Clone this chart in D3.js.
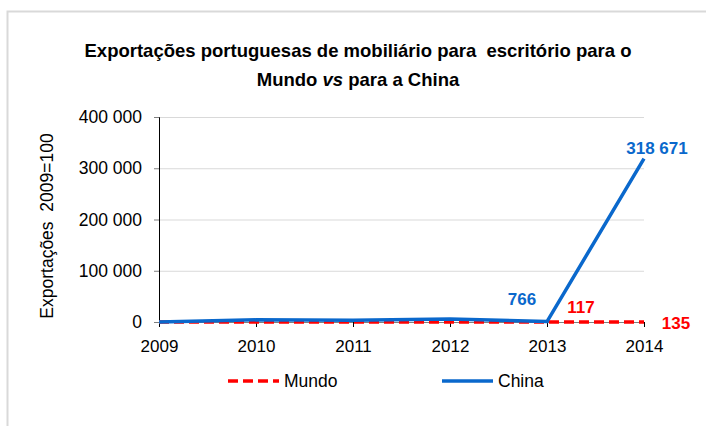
<!DOCTYPE html>
<html>
<head>
<meta charset="utf-8">
<script src="https://cdn.jsdelivr.net/npm/d3@7"></script>
<style>
  body { margin: 0; background: #fff; overflow: hidden; }
  text { font-family: "Liberation Sans", Arial, sans-serif; white-space: pre; }
</style>
</head>
<body>
<script>
//Data
    const years = ["2009", "2010", "2011", "2012", "2013", "2014"];
    const mundo = [100, 112, 98, 106, 117, 135];
    const china = [100, 4200, 3500, 5800, 766, 318671];
    const yTicks = [0, 100000, 200000, 300000, 400000];

//Layout
    const width = 706;
    const height = 426;
    const plotLeft = 159, plotRight = 644, plotTop = 117, plotBottom = 322;
    const blue = "#0a68cc", red = "#ff0000";

    const svg = d3.select("body").append("svg")
        .attr("width", width)
        .attr("height", height);

    //outer frame
    svg.append("rect")
        .attr("x", 7.5).attr("y", 11.5)
        .attr("width", 710).attr("height", 430)
        .attr("fill", "none").attr("stroke", "#d9d9d9").attr("stroke-width", 2);

//Scales
    const xScale = d3.scalePoint().domain(years).range([plotLeft, plotRight]);
    const yScale = d3.scaleLinear().domain([0, 400000]).range([plotBottom, plotTop]);

    const fmt = v => d3.format(",")(v).replace(/,/g, " ");

//Gridlines
    svg.append("g")
        .selectAll("line")
        .data(yTicks.slice(1))
        .enter().append("line")
        .attr("x1", plotLeft).attr("x2", plotRight)
        .attr("y1", d => yScale(d) + 0.5).attr("y2", d => yScale(d) + 0.5)
        .attr("stroke", "#d9d9d9").attr("stroke-width", 1);

//Axes
    const leftAxis = d3.axisLeft(yScale).tickValues(yTicks).tickFormat(fmt).tickSize(5).tickPadding(12);
    const gy = svg.append("g").attr("transform", "translate(" + plotLeft + ",0)").call(leftAxis);
    gy.select(".domain").attr("stroke", "#000");
    gy.selectAll(".tick line").attr("stroke", "#7f7f7f");
    gy.selectAll("text").attr("font-size", 17.5).attr("fill", "#000");

    const bottomAxis = d3.axisBottom(xScale).tickSize(5).tickPadding(13);
    const gx = svg.append("g").attr("transform", "translate(0," + plotBottom + ")").call(bottomAxis);
    gx.select(".domain").attr("stroke", "#7f7f7f").attr("d", "M" + plotLeft + ",0.5H" + plotRight);
    gx.selectAll(".tick line").attr("stroke", "#000");
    gx.selectAll("text").attr("font-size", 17).attr("fill", "#000");

//Lines
    const line = d3.line().x((d, i) => xScale(years[i])).y(d => yScale(d));

    svg.append("path").datum(mundo)
        .attr("d", line).attr("fill", "none")
        .attr("stroke", red).attr("stroke-width", 3.5)
        .attr("stroke-dasharray", "10,5");

    svg.append("path").datum(china)
        .attr("d", line).attr("fill", "none")
        .attr("stroke", blue).attr("stroke-width", 3.5)
        .attr("stroke-linejoin", "round");

//Data labels
    const labels = [
        {text: fmt(china[5]), x: xScale("2014") + 13, y: yScale(china[5]) - 5, c: blue},
        {text: fmt(china[4]), x: xScale("2013") - 25, y: yScale(china[4]) - 17, c: blue},
        {text: fmt(mundo[4]), x: xScale("2013") + 34, y: yScale(mundo[4]) - 9, c: red},
        {text: fmt(mundo[5]), x: xScale("2014") + 32, y: yScale(mundo[5]) + 7, c: red}
    ];
    svg.append("g").selectAll("text")
        .data(labels).enter().append("text")
        .attr("x", d => d.x).attr("y", d => d.y)
        .attr("text-anchor", "middle")
        .attr("font-size", 17).attr("font-weight", "bold")
        .attr("fill", d => d.c)
        .text(d => d.text);

//Title
    const title = svg.append("text")
        .attr("text-anchor", "middle")
        .attr("font-size", 18.5).attr("font-weight", "bold").attr("fill", "#000");
    title.append("tspan").attr("x", 358).attr("y", 57)
        .text("Exportações portuguesas de mobiliário para  escritório para o");
    const t2 = title.append("tspan").attr("x", 358).attr("y", 86);
    t2.append("tspan").text("Mundo ");
    t2.append("tspan").attr("font-style", "italic").text("vs");
    t2.append("tspan").text(" para a China");

//Y label
    svg.append("text")
        .attr("transform", "translate(53,226) rotate(-90)")
        .attr("text-anchor", "middle")
        .attr("font-size", 17.5).attr("fill", "#000")
        .text("Exportações  2009=100");

//Legend
    const legend = [
        {name: "Mundo", x: 228, c: red, dash: "10,5"},
        {name: "China", x: 442, c: blue, dash: null}
    ];
    const lg = svg.append("g").selectAll("g").data(legend).enter().append("g");
    lg.append("line")
        .attr("x1", d => d.x).attr("x2", d => d.x + 51)
        .attr("y1", 381).attr("y2", 381)
        .attr("stroke", d => d.c).attr("stroke-width", 3.5)
        .attr("stroke-dasharray", d => d.dash);
    lg.append("text")
        .attr("x", d => d.x + 56).attr("y", 387)
        .attr("font-size", 17.5).attr("fill", "#000")
        .text(d => d.name);
</script>
</body>
</html>
